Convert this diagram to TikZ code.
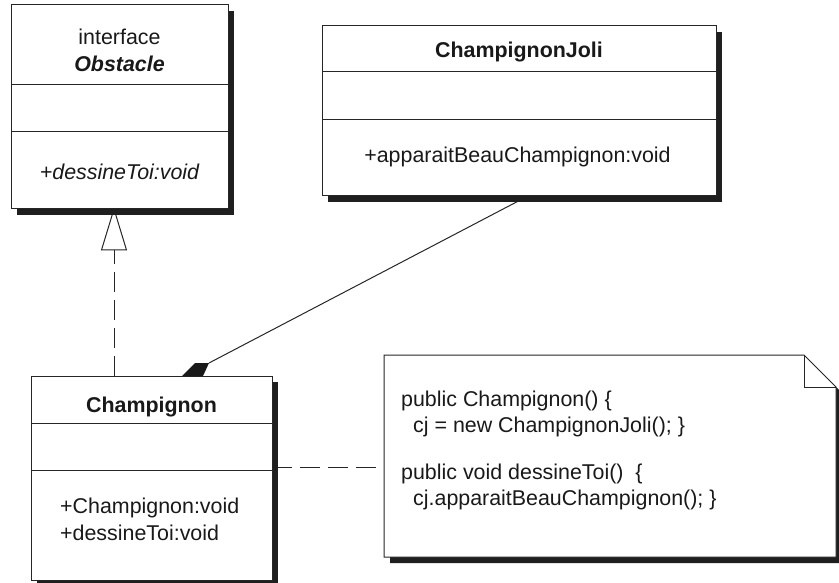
\documentclass[tikz,border=0pt]{standalone}
\usepackage{fontspec}
\setmainfont{Liberation Sans}
\usetikzlibrary{shadows,backgrounds,calc}
\begin{document}
\begin{tikzpicture}[x=1pt,y=-1pt,
  umlbox/.style={draw=black!85, line width=1pt, fill=white, anchor=north west, inner sep=0pt, outer sep=0pt,
     drop shadow={shadow xshift=6pt, shadow yshift=-6pt, fill=black!88, opacity=1}},
  divider/.style={draw=black!85, line width=1pt},
  txt/.style={inner sep=0pt, text=black!90, font=\fontsize{21.4}{25.5}\selectfont},
  dashedline/.style={draw=black!85, line width=1pt, dash pattern=on 20pt off 8pt},
  conn/.style={draw=black!85, line width=1pt}]
\useasboundingbox (0,0) rectangle (839,583);

% class boxes
\node[umlbox, minimum width=217pt, minimum height=204pt] (obs) at (11,5) {};
\node[umlbox, minimum width=394pt, minimum height=170pt] (cj) at (322,26) {};
\node[umlbox, minimum width=241pt, minimum height=204pt] (champ) at (31,376) {};

% compartments
\draw[divider] (obs.west |- 0,85) -- (obs.east |- 0,85);
\draw[divider] (obs.west |- 0,132) -- (obs.east |- 0,132);
\draw[divider] (cj.west |- 0,72) -- (cj.east |- 0,72);
\draw[divider] (cj.west |- 0,120) -- (cj.east |- 0,120);
\draw[divider] (champ.west |- 0,423) -- (champ.east |- 0,423);
\draw[divider] (champ.west |- 0,470) -- (champ.east |- 0,470);

% texts
\node[txt] (obsster) at (119.5,37) {interface};
\node[txt] (obsname) at (119.5,64) {\bfseries\itshape Obstacle};
\node[txt] (obsop) at (119.5,172) {\itshape +dessineToi:void};
\node[txt] (cjname) at (519,52) {\bfseries ChampignonJoli};
\node[txt] (cjop) at (517.5,157) {+apparaitBeauChampignon:void};
\node[txt] (chname) at (151.5,407) {\bfseries Champignon};
\node[txt, anchor=west] (chop1) at (60,508) {+Champignon:void};
\node[txt, anchor=west] (chop2) at (60,533) {+dessineToi:void};

% note
\node[inner sep=0pt, outer sep=0pt, minimum width=452pt, minimum height=202pt, anchor=north west] (note) at (384,355) {};
\fill[black!88] ($(note.north west)+(6,6)$) -- ($(note.north east)+(-26,6)$) -- ($(note.north east)+(6,38)$)
   -- ($(note.south east)+(6,6)$) -- ($(note.south west)+(6,6)$) -- cycle;
\draw[conn, fill=white] (note.north west) -- ($(note.north east)+(-32,0)$) -- ($(note.north east)+(0,32)$)
   -- (note.south east) -- (note.south west) -- cycle;
\draw[conn] ($(note.north east)+(-32,0)$) -- ($(note.north east)+(-32,32)$) -- ($(note.north east)+(0,32)$);
\node[txt, anchor=west] (n1) at (401,401) {public Champignon() \{};
\node[txt, anchor=west] (n2) at (413,427) {cj = new ChampignonJoli(); \}};
\node[txt, anchor=west] (n3) at (401,474) {public void dessineToi()\ \ \{};
\node[txt, anchor=west] (n4) at (413,500) {cj.apparaitBeauChampignon(); \}};

% composition diamond
\coordinate (dtip) at (209,363);
\coordinate (cjend) at ($(cj.south west)+(206,0)$);
\fill[black!90] ($(champ.north west)+(151,0)$) -- ($(champ.north west)+(164,-13)$) -- (dtip) -- ($(champ.north west)+(172,0)$) -- cycle;

% connectors
\begin{scope}[on background layer]
\draw[dashedline] (champ.north -| 114,0) -- (114,250);
\draw[conn, fill=white] (obs.south -| 114,0) -- (126.5,250) -- (101.5,250) -- cycle;
\draw[conn] (dtip) -- (cjend);
\draw[dashedline] (champ.east |- 0,467) -- (note.west |- 0,467);
\end{scope}
\end{tikzpicture}
\end{document}
